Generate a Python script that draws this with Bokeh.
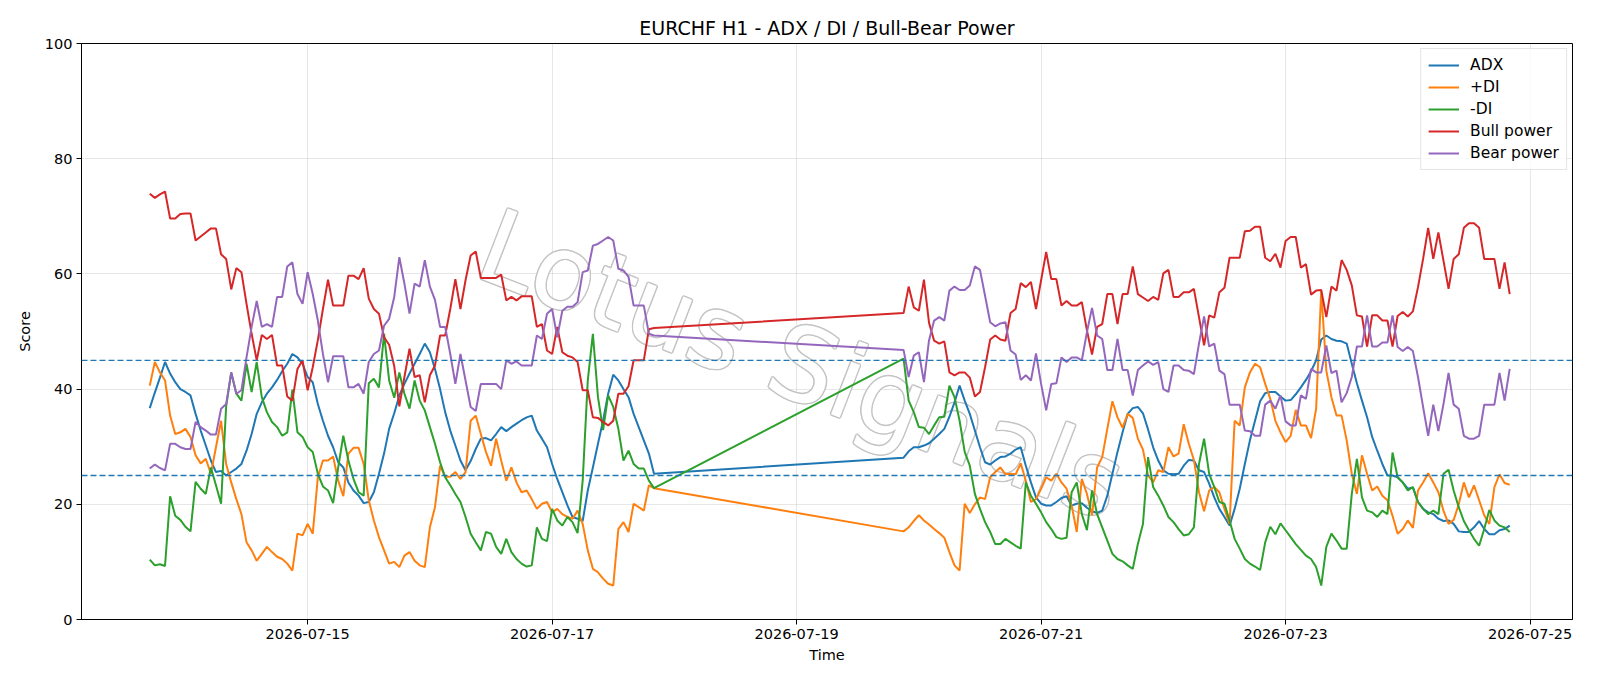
import pandas as pd
from bokeh.plotting import figure
from bokeh.models import (ColumnDataSource, Range1d, FixedTicker, DatetimeTickFormatter,
                          Span, Label)
from bokeh.embed import file_html
from bokeh.resources import INLINE

# ---- hourly readings, first block (Mon 07-13 17:00 .. Fri 07-17 20:00) ----
adx_week1 = [36.7, 39.4, 42.0, 44.7, 42.7, 41.2, 40.0, 39.5, 38.9, 35.7,
             32.8, 30.2, 27.6, 25.6, 25.8, 25.0, 25.6, 26.2, 27.0, 29.3,
             32.2, 35.7, 37.7, 39.2, 40.3, 41.6, 43.1, 44.4, 46.1, 45.5,
             44.4, 42.1, 41.2, 37.4, 34.5, 31.9, 29.9, 27.3, 26.4, 23.8,
             22.4, 21.5, 20.2, 20.4, 22.1, 25.3, 28.8, 33.1, 35.8, 38.9,
             40.9, 42.7, 44.4, 46.1, 47.9, 46.4, 43.5, 40.0, 36.0, 32.8,
             30.2, 27.6, 25.9, 27.5, 29.6, 31.4, 31.5, 31.1, 32.2, 33.4,
             32.7, 33.4, 34.0, 34.6, 35.1, 35.4, 32.8, 31.4, 29.9, 27.0,
             24.4, 22.1, 19.8, 17.8, 17.5, 17.1, 22.4, 26.4, 30.5, 34.5,
             39.2, 42.5, 41.5, 40.0, 38.6, 35.7, 33.4, 31.1, 28.8, 25.3]
pdi_week1 = [40.6, 44.7, 42.9, 41.5, 35.4, 32.2, 32.5, 33.1, 31.7, 28.5,
             27.1, 27.9, 25.3, 29.9, 34.5, 27.0, 23.8, 20.9, 18.3, 13.4,
             12.0, 10.2, 11.4, 12.6, 11.7, 10.9, 10.5, 9.7, 8.5, 14.9,
             14.6, 16.6, 14.9, 24.7, 27.6, 27.6, 28.3, 24.1, 21.4, 28.8,
             29.8, 29.8, 27.0, 20.7, 17.2, 14.3, 12.0, 9.7, 10.0, 9.1,
             11.1, 11.7, 10.2, 9.4, 9.1, 16.0, 19.5, 26.7, 24.8, 24.8,
             25.6, 24.4, 25.6, 34.5, 35.4, 32.2, 29.1, 26.7, 31.4, 27.6,
             24.1, 26.4, 23.8, 22.1, 22.4, 20.9, 19.2, 20.1, 20.4, 18.6,
             19.2, 18.3, 17.8, 17.5, 18.9, 16.6, 12.0, 8.8, 8.2, 7.1,
             6.2, 5.9, 15.7, 16.9, 15.2, 20.1, 19.5, 18.9, 23.3, 22.8]
mdi_week1 = [10.4, 9.4, 9.6, 9.3, 21.4, 18.0, 17.3, 16.1, 15.3, 23.9,
             22.7, 21.8, 26.4, 23.3, 20.1, 37.0, 42.9, 39.2, 38.0, 44.4,
             39.5, 44.7, 38.6, 36.0, 34.3, 33.4, 31.9, 32.5, 39.9, 32.5,
             31.7, 29.9, 29.1, 25.3, 23.1, 22.4, 20.2, 26.4, 31.9, 27.6,
             24.4, 22.1, 21.5, 41.0, 41.8, 40.3, 49.6, 41.5, 38.5, 42.9,
             39.2, 36.6, 41.5, 38.0, 36.3, 33.4, 30.5, 27.3, 24.7, 23.3,
             21.8, 20.4, 17.8, 14.9, 13.4, 12.0, 15.2, 14.9, 12.6, 11.4,
             14.0, 11.7, 10.5, 9.7, 9.2, 9.4, 16.0, 14.0, 13.6, 19.2,
             17.2, 16.3, 17.8, 16.9, 15.0, 24.1, 41.5, 49.6, 38.6, 32.9,
             38.9, 36.9, 33.1, 27.6, 29.3, 27.0, 26.2, 26.2, 24.1, 22.8]
bull_week1 = [73.9, 73.2, 73.8, 74.3, 69.6, 69.6, 70.4, 70.5, 70.5, 65.8,
              66.5, 67.2, 67.9, 67.9, 63.4, 62.6, 57.3, 61.0, 60.3, 54.8,
              49.6, 45.0, 49.4, 48.7, 49.4, 44.1, 44.1, 38.7, 38.0, 43.5,
              45.0, 39.8, 43.8, 48.5, 53.9, 59.0, 54.5, 54.5, 54.5, 59.7,
              59.7, 59.1, 61.0, 55.7, 53.9, 53.1, 49.0, 47.7, 44.0, 37.0,
              42.1, 47.0, 42.1, 42.4, 37.7, 42.4, 44.1, 49.3, 49.3, 53.9,
              59.1, 53.9, 58.9, 63.2, 63.9, 59.3, 59.3, 59.3, 59.3, 59.9,
              55.4, 56.0, 55.4, 56.1, 56.1, 56.1, 50.8, 51.3, 46.7, 46.1,
              50.8, 46.4, 45.8, 45.5, 44.7, 39.8, 39.8, 35.1, 35.0, 34.3,
              33.7, 34.5, 39.2, 39.2, 40.5, 45.0, 45.0, 45.0, 50.4, 50.6]
bear_week1 = [26.2, 26.9, 26.3, 25.9, 30.5, 30.5, 29.9, 29.6, 29.6, 34.3,
              33.4, 32.8, 32.1, 32.1, 36.6, 37.4, 42.9, 39.2, 39.8, 45.5,
              50.8, 55.3, 50.8, 51.3, 50.8, 56.0, 56.0, 61.3, 62.0, 56.5,
              54.8, 60.3, 56.5, 51.9, 46.1, 41.2, 45.7, 45.7, 45.7, 40.3,
              40.3, 40.9, 39.2, 44.7, 46.1, 46.7, 51.0, 52.2, 56.0, 62.9,
              58.3, 53.1, 58.3, 57.8, 62.4, 57.8, 55.5, 50.8, 50.8, 46.1,
              40.9, 46.1, 41.5, 36.9, 36.2, 40.9, 40.9, 40.9, 40.9, 40.0,
              45.0, 44.4, 44.8, 44.1, 44.1, 44.1, 49.3, 48.7, 53.1, 53.9,
              49.0, 53.6, 54.3, 54.3, 55.1, 60.3, 60.6, 64.9, 65.2, 65.8,
              66.4, 65.8, 60.9, 60.6, 59.5, 54.5, 54.5, 54.5, 49.6, 49.3]

# ---- hourly readings, second block (Sun 07-19 21:00 .. Fri 07-24 20:00) ----
adx_week2 = [28.1, 29.2, 29.9, 29.9, 30.2, 30.6, 31.4, 32.2, 33.1, 35.2,
             37.7, 40.6, 38.0, 35.7, 32.8, 29.9, 27.3, 26.9, 27.6, 28.2,
             28.3, 28.8, 29.5, 29.9, 26.7, 23.8, 21.2, 20.1, 19.8, 19.8,
             20.4, 21.1, 21.4, 19.8, 20.1, 20.2, 19.4, 18.8, 18.5, 18.9,
             21.5, 25.3, 29.1, 32.5, 35.7, 36.7, 36.9, 35.8, 33.0, 29.9,
             27.6, 25.9, 25.3, 25.2, 25.3, 26.7, 27.7, 27.6, 25.9, 25.6,
             23.6, 21.2, 19.2, 17.8, 16.3, 19.2, 22.7, 27.0, 31.1, 34.5,
             37.9, 39.3, 39.5, 39.5, 38.7, 38.0, 38.1, 39.1, 40.3, 41.6,
             43.1, 45.0, 48.6, 49.3, 48.7, 48.4, 48.3, 47.9, 44.4, 41.0,
             38.0, 35.1, 31.7, 29.3, 27.0, 25.0, 25.0, 24.7, 23.8, 22.7,
             22.9, 20.4, 19.2, 18.6, 18.3, 17.5, 17.1, 17.2, 16.6, 15.3,
             15.2, 15.2, 16.0, 17.1, 15.7, 14.8, 14.8, 15.5, 15.7, 16.3]
pdi_week2 = [15.3, 16.0, 17.1, 18.1, 17.2, 16.5, 15.7, 15.0, 14.2, 11.7,
             9.4, 8.5, 20.1, 18.5, 20.0, 21.2, 20.9, 24.7, 25.6, 26.4,
             25.2, 25.3, 25.2, 27.1, 24.1, 20.4, 20.9, 22.7, 24.7, 24.1,
             25.3, 23.8, 22.7, 19.8, 15.2, 24.4, 21.8, 18.1, 26.4, 28.2,
             33.1, 37.9, 35.1, 33.3, 35.7, 35.0, 31.4, 29.5, 25.0, 23.8,
             25.9, 25.6, 29.9, 28.3, 28.8, 33.9, 30.5, 27.7, 22.1, 18.8,
             22.4, 23.0, 22.1, 19.2, 16.6, 34.5, 33.7, 40.3, 42.9, 44.4,
             43.8, 40.9, 38.3, 34.5, 32.5, 30.8, 31.9, 36.4, 33.7, 33.7,
             31.5, 36.6, 57.1, 43.2, 38.6, 35.4, 35.4, 31.1, 25.3, 21.8,
             28.5, 25.3, 22.4, 23.1, 21.5, 20.7, 18.0, 14.9, 15.7, 17.2,
             15.9, 22.4, 23.8, 25.4, 23.8, 22.1, 18.9, 16.6, 17.3, 20.0,
             23.8, 21.2, 23.3, 20.7, 18.1, 16.6, 23.0, 25.2, 23.7, 23.4]
mdi_week2 = [45.3, 38.0, 36.0, 33.4, 33.3, 32.2, 33.7, 35.1, 35.2, 40.6,
             38.6, 34.5, 29.1, 26.7, 21.8, 19.2, 16.9, 15.2, 13.1, 13.1,
             14.0, 13.4, 12.8, 12.3, 23.8, 21.5, 20.1, 18.6, 16.9, 15.7,
             14.3, 14.0, 14.2, 22.1, 23.8, 18.3, 15.5, 22.4, 18.3, 16.0,
             13.7, 11.4, 10.5, 10.1, 9.4, 8.8, 13.1, 16.6, 28.2, 23.0,
             21.5, 19.8, 17.8, 16.9, 15.7, 14.6, 14.8, 16.0, 27.0, 31.4,
             25.3, 23.0, 20.4, 20.1, 17.2, 14.0, 12.3, 10.5, 9.7, 9.2,
             8.6, 13.4, 16.1, 14.8, 16.7, 15.5, 14.3, 13.1, 12.1, 11.1,
             10.5, 9.1, 5.9, 12.6, 14.9, 13.7, 12.3, 12.3, 21.8, 27.9,
             21.2, 18.9, 18.6, 17.8, 18.9, 18.3, 29.0, 24.7, 23.8, 22.4,
             23.0, 20.4, 19.2, 18.3, 18.9, 18.3, 25.3, 26.0, 22.4, 19.5,
             17.1, 15.5, 14.0, 12.8, 15.7, 19.0, 17.2, 16.3, 16.0, 15.2]
bull_week2 = [53.2, 57.8, 54.2, 53.6, 59.0, 51.5, 48.4, 47.9, 48.3, 42.9,
              42.4, 42.9, 42.9, 42.0, 38.7, 39.5, 43.8, 48.6, 49.3, 48.6,
              48.4, 53.2, 53.9, 58.4, 57.7, 58.6, 53.9, 58.9, 63.8, 59.1,
              59.1, 54.5, 55.3, 54.5, 54.5, 55.1, 50.2, 46.0, 50.8, 51.3,
              56.5, 56.5, 51.3, 56.5, 56.5, 61.3, 56.5, 55.9, 55.3, 56.0,
              55.5, 60.1, 60.7, 56.0, 56.0, 56.8, 56.8, 57.4, 52.5, 47.6,
              52.8, 52.4, 56.8, 57.6, 62.8, 62.8, 62.8, 67.4, 67.5, 68.2,
              68.2, 62.8, 62.2, 63.5, 61.1, 65.7, 66.4, 66.4, 61.1, 61.7,
              56.4, 57.1, 57.2, 52.5, 57.8, 57.1, 62.4, 60.7, 58.0, 52.8,
              52.6, 47.4, 52.8, 52.8, 51.9, 51.9, 47.4, 52.7, 53.4, 52.6,
              53.5, 57.7, 62.6, 68.0, 62.6, 67.2, 62.3, 57.4, 62.6, 63.4,
              68.0, 68.8, 68.8, 68.0, 62.6, 62.6, 62.6, 57.4, 62.0, 56.5]
bear_week2 = [46.8, 42.1, 45.8, 46.4, 41.2, 48.5, 51.9, 52.5, 51.9, 57.1,
              57.8, 57.2, 57.2, 58.0, 61.3, 60.7, 56.2, 51.6, 50.9, 51.4,
              51.6, 46.7, 46.0, 41.6, 42.4, 41.5, 46.2, 40.9, 36.3, 40.9,
              41.0, 45.5, 44.7, 45.5, 45.5, 45.0, 49.9, 54.1, 49.3, 48.7,
              43.3, 43.3, 48.7, 43.3, 43.3, 38.9, 43.3, 44.1, 44.8, 44.2,
              44.7, 40.0, 39.5, 44.1, 44.1, 43.3, 43.2, 42.6, 47.9, 52.6,
              47.4, 47.9, 43.2, 42.6, 37.3, 37.3, 37.3, 32.8, 32.7, 31.9,
              31.9, 37.3, 38.0, 36.6, 38.9, 34.4, 33.7, 33.7, 38.9, 38.3,
              43.5, 42.9, 42.9, 47.6, 42.8, 43.2, 37.7, 39.3, 42.1, 47.4,
              47.4, 52.8, 47.4, 47.4, 48.1, 48.1, 52.8, 47.3, 46.6, 47.3,
              46.6, 42.1, 36.9, 31.9, 37.3, 32.7, 37.4, 42.8, 37.3, 36.6,
              31.9, 31.4, 31.4, 31.9, 37.3, 37.3, 37.3, 42.8, 38.0, 43.5]

threshold_levels = [25, 45]
date_ticks = ["2026-07-15", "2026-07-17", "2026-07-19", "2026-07-21", "2026-07-23", "2026-07-25"]
score_ticks = [0, 20, 40, 60, 80, 100]

series = [("ADX", adx_week1 + adx_week2, "#1f77b4"),
          ("+DI", pdi_week1 + pdi_week2, "#ff7f0e"),
          ("-DI", mdi_week1 + mdi_week2, "#2ca02c"),
          ("Bull power", bull_week1 + bull_week2, "#d62728"),
          ("Bear power", bear_week1 + bear_week2, "#9467bd")]

t1 = pd.date_range("2026-07-13 17:00", periods=len(adx_week1), freq="h")
t2 = pd.date_range("2026-07-19 21:00", periods=len(adx_week2), freq="h")
times = t1.append(t2)

x_start = pd.Timestamp("2026-07-13 03:36").to_pydatetime()
x_end = pd.Timestamp("2026-07-25 08:20").to_pydatetime()

FONT = "DejaVu Sans"

p = figure(width=1600, height=686, x_axis_type="datetime",
           x_range=Range1d(x_start, x_end), y_range=Range1d(0, 100),
           output_backend="svg", toolbar_location=None,
           title="EURCHF H1 - ADX / DI / Bull-Bear Power",
           min_border_left=81, min_border_right=28,
           min_border_top=43, min_border_bottom=67)

p.title.align = "center"
p.title.text_font = FONT
p.title.text_font_size = "19px"
p.title.text_font_style = "normal"
p.title.text_color = "black"
p.title.standoff = 10

p.outline_line_color = "black"
p.outline_line_width = 1
p.background_fill_color = "white"
p.border_fill_color = "white"

# hollow, tilted watermark behind the curves: grey copies offset around a white core
wm_x = pd.Timestamp("2026-07-19 01:00").value / 1e6
wm_style = dict(x=wm_x, y=44.3, text="Lotus Signals", angle=-0.37,
                text_align="center", text_baseline="middle", text_font=FONT,
                text_font_size="103px", level="underlay")
for dx, dy in [(-1.4, 0), (1.4, 0), (0, -1.4), (0, 1.4),
               (-1, -1), (1, 1), (-1, 1), (1, -1)]:
    p.add_layout(Label(x_offset=dx, y_offset=dy, text_color="#c4c4c4", **wm_style))
p.add_layout(Label(text_color="white", **wm_style))

for lvl in threshold_levels:
    p.add_layout(Span(location=lvl, dimension="width", line_color="#1f77b4",
                      line_dash="6 3", line_width=1.3))

src = ColumnDataSource(dict(time=times, **{f"s{i}": s[1] for i, s in enumerate(series)}))
for i, (name, vals, color) in enumerate(series):
    p.line(x="time", y=f"s{i}", source=src, line_color=color, line_width=2,
           legend_label=name)

tick_ms = [pd.Timestamp(d).value // 10**6 for d in date_ticks]
p.xaxis.ticker = FixedTicker(ticks=tick_ms)
fmt = "%Y-%m-%d"
p.xaxis.formatter = DatetimeTickFormatter(days=fmt, months=fmt, hours=fmt, hourmin=fmt,
                                          years=fmt, minutes=fmt)
p.yaxis.ticker = FixedTicker(ticks=score_ticks)

p.xaxis.axis_label = "Time"
p.yaxis.axis_label = "Score"
for ax in (p.xaxis, p.yaxis):
    ax.axis_label_text_font = FONT
    ax.axis_label_text_font_size = "14.5px"
    ax.axis_label_text_font_style = "normal"
    ax.axis_label_text_color = "black"
    ax.major_label_text_font = FONT
    ax.major_label_text_font_size = "14.5px"
    ax.major_label_text_color = "black"
    ax.axis_line_color = "black"
    ax.major_tick_line_color = "black"
    ax.major_tick_out = 5
    ax.major_tick_in = 0
    ax.minor_tick_line_color = None
    ax.major_label_standoff = 4
p.xaxis.axis_label_standoff = 5
p.yaxis.axis_label_standoff = 9

p.xgrid.grid_line_color = "#b0b0b0"
p.xgrid.grid_line_alpha = 0.3
p.ygrid.grid_line_color = "#b0b0b0"
p.ygrid.grid_line_alpha = 0.3

lg = p.legend[0]
lg.location = "top_right"
lg.margin = 5
lg.padding = 7
lg.spacing = 4
lg.glyph_width = 31
lg.glyph_height = 18
lg.label_height = 18
lg.label_standoff = 11
lg.label_text_font = FONT
lg.label_text_font_size = "15.5px"
lg.label_text_color = "black"
lg.border_line_color = "#cccccc"
lg.border_line_width = 1
lg.background_fill_alpha = 0.8

open("out.html", "w").write(file_html(p, INLINE))
